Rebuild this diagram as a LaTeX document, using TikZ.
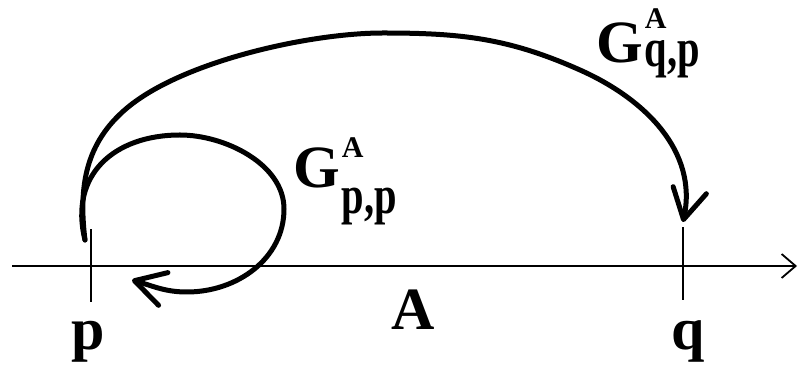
\documentclass[tikz,border=0pt]{standalone}
\usepackage{fontspec}
\setmainfont{Liberation Serif}
\usepackage{graphicx}
\usetikzlibrary{arrows.meta}

\newcommand{\suptxt}{\fontsize{30}{30}\selectfont}
\newcommand{\subtxt}[1]{\scalebox{0.75}[1]{\fontsize{54}{54}\selectfont #1}}

\begin{document}
\begin{tikzpicture}[x=1pt, y=1pt,
  axisline/.style={line width=1.8pt},
  gfun/.style={line width=5pt, line cap=round, -{Straight Barb[length=30pt, width=34pt, round]}},
  bigtxt/.style={font=\fontsize{60}{60}\selectfont\bfseries, inner sep=0pt}]
\useasboundingbox (0,0) rectangle (798,369);
% axis
\coordinate (left) at (12,103);
\coordinate (right) at (797,103);
\draw[axisline, -{Straight Barb[length=14pt, width=24pt]}] (left) -- (right);
% ticks at p and q
\coordinate (ptop) at (91,140); \coordinate (pbot) at (91,67);
\coordinate (qtop) at (683,142); \coordinate (qbot) at (683,69);
\draw[axisline] (pbot) -- (ptop);
\draw[axisline] (qbot) -- (qtop);
% both curves leave from just below p
\coordinate (start) at (85,129);
\coordinate (qtip) at (683,147);
\coordinate (ptip) at (132,89);
% G_{q,p}: p to q
\draw[gfun] (start) to[out=97,in=220] (127,261) to[out=40,in=180,looseness=0.7] (383,336)
  to[out=0,in=156] (580,299) to[out=-24,in=78] (qtip);
% G_{p,p}: back to p
\draw[gfun] (start) to[out=104,in=180,looseness=1.2] (180,234)
  to[out=0,in=90,looseness=0.9] (284,160) to[out=-90,in=0] (187,77)
  to[out=180,in=-16] (ptip);
% labels
\node[bigtxt, anchor=base] (plabel) at (88,19) {p};
\node[bigtxt, anchor=base] (qlabel) at (688,19) {q};
\node[bigtxt, anchor=base] (alabel) at (413.5,39) {A};
\node[bigtxt, anchor=base west] (gqp) at (596,306)
  {G\hspace{2pt}\rlap{\raisebox{34pt}{\suptxt A}}\raisebox{-4pt}{\subtxt{q,p}}};
\node[bigtxt, anchor=base west] (gpp) at (293,181)
  {G\hspace{2pt}\rlap{\raisebox{30pt}{\suptxt A}}\raisebox{-26pt}{\subtxt{p,p}}};
\end{tikzpicture}
\end{document}
